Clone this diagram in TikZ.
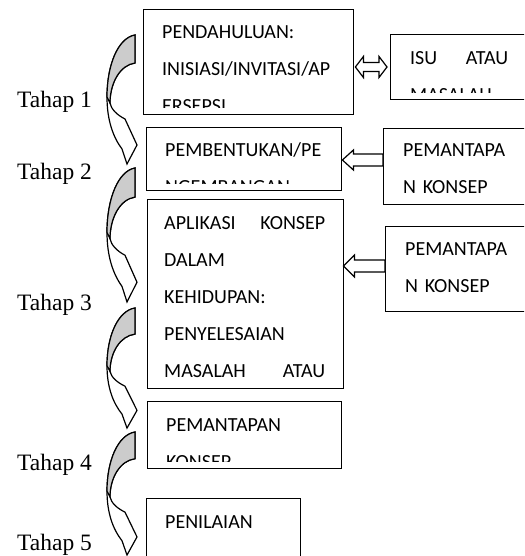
\documentclass[tikz,border=0pt]{standalone}
\usepackage{fontspec}
\setmainfont{Liberation Serif}
\newfontfamily\boxfont{Carlito}
\usetikzlibrary{calc}
\tikzset{box/.style={draw,line width=1.4pt,anchor=north west,inner sep=0pt}}
\tikzset{boxtext/.style={anchor=base west,inner sep=0pt,align=left,font=\boxfont\fontsize{20pt}{37pt}\selectfont}}
\tikzset{stage/.style={anchor=base west,inner sep=0pt,font=\fontsize{23.5pt}{26pt}\selectfont}}
\tikzset{hollow/.style={draw,fill=white,line width=1.2pt,line join=miter}}
\tikzset{backface/.style={draw,fill=black!20,line width=1.2pt}}

\begin{document}
\begin{tikzpicture}[x=1pt,y=-1pt]
        \useasboundingbox (0,0) rectangle (524,556);
        \clip (0,0) rectangle (524,556);
        % main column
        \node[box,minimum width=210pt,minimum height=105pt] (b1) at (143,9) {};
        \node[box,minimum width=195pt,minimum height=63pt] (b2) at (146,127) {};
        \node[box,minimum width=196pt,minimum height=189pt] (b3) at (147,199) {};
        \node[box,minimum width=194pt,minimum height=67pt] (b4) at (147,401) {};
        \node[box,minimum width=154pt,minimum height=90pt] (b5) at (146,498) {};
        % right column
        \node[box,minimum width=150pt,minimum height=65pt] (r1) at (390,34) {};
        \node[box,minimum width=157pt,minimum height=76pt] (r2) at (383,128) {};
        \node[box,minimum width=155pt,minimum height=85pt] (r3) at (385,226) {};
        % texts, cut off at the lower edge as in the boxes
        \begin{scope}
            \clip (b1.north west) rectangle ([yshift=8pt]b1.south east);
            \node[boxtext,text width=190pt] (t1) at ([shift={(19pt,-30pt)}]b1.north west) {PENDAHULUAN:\\INISIASI/INVITASI/AP\\ERSEPSI};
        \end{scope}
        \begin{scope}
            \clip (b2.north west) rectangle ([yshift=8pt]b2.south east);
            \node[boxtext,text width=160pt] (t2) at ([shift={(19pt,-30pt)}]b2.north west) {PEMBENTUKAN/PE\\NGEMBANGAN};
        \end{scope}
        \node[boxtext,text width=161pt] (t3) at ([shift={(17pt,-30pt)}]b3.north west) {APLIKASI\hfill KONSEP\\DALAM\\KEHIDUPAN:\\PENYELESAIAN\\MASALAH\hfill ATAU};
        \begin{scope}
            \clip (b4.north west) rectangle ([yshift=8pt]b4.south east);
            \node[boxtext,text width=160pt] (t4) at ([shift={(19pt,-30pt)}]b4.north west) {PEMANTAPAN\\KONSEP};
        \end{scope}
        \node[boxtext,text width=130pt] (t5) at ([shift={(19pt,-30pt)}]b5.north west) {PENILAIAN};
        \begin{scope}
            \clip (r1.north west) rectangle ([yshift=8pt]r1.south east);
            \node[boxtext,text width=98pt] (s1) at ([shift={(20pt,-31pt)}]r1.north west) {ISU\hfill ATAU\\MASALAH};
        \end{scope}
        \node[boxtext,text width=110pt] (s2) at ([shift={(20pt,-29pt)}]r2.north west) {PEMANTAPA\\N KONSEP};
        \node[boxtext,text width=110pt] (s3) at ([shift={(20pt,-29pt)}]r3.north west) {PEMANTAPA\\N KONSEP};
        % block arrows between the columns
        \coordinate (a1) at ([xshift=1pt]b1.east |- 0,67);
        \coordinate (c1) at ([xshift=-3pt]r1.west |- 0,67);
        \draw[hollow] (a1) -- ++(8,-10.5) -- ++(0,6) -- ($(c1)+(-8,-4.5)$) -- ++(0,-6) -- (c1)
            -- ($(c1)+(-8,10.5)$) -- ++(0,-6) -- ($(a1)+(8,4.5)$) -- ++(0,6) -- cycle;
        \coordinate (a2) at (b2.east |- 0,160);
        \coordinate (c2) at (r2.west |- 0,160);
        \draw[hollow] (a2) -- ++(11,-10) -- ++(0,4) -- ($(c2)+(0,-6)$) -- ($(c2)+(0,6)$)
            -- ($(a2)+(11,6)$) -- ($(a2)+(11,10)$) -- cycle;
        \coordinate (a3) at ([xshift=-1pt]b3.east |- 0,266);
        \coordinate (c3) at (r3.west |- 0,266);
        \draw[hollow] (a3) -- ++(11,-11) -- ++(0,5) -- ($(c3)+(0,-6)$) -- ($(c3)+(0,6)$)
            -- ($(a3)+(11,6)$) -- ($(a3)+(11,11)$) -- cycle;
        % curved arrows on the left
        \foreach \yy/\hh in {35/130,168/135,308/121,432/124}{
            \begin{scope}[shift={(0,\yy)},yscale=\hh/130]
                \draw[hollow] (135,0) .. controls (118,3) and (107,30) .. (107,62)
                    .. controls (107,85) and (113,102) .. (122,114) -- (127,129) -- (137,110) -- (125,84)
                    .. controls (117,80) and (111,74) .. (110,68)
                    .. controls (110,48) and (120,30) .. (135,28) -- cycle;
                \draw[backface] (135,0) .. controls (118,3) and (107,30) .. (107,62) -- (110,68)
                    .. controls (110,48) and (120,30) .. (135,28) -- cycle;
            \end{scope}
        }
        \foreach \n/\yy in {1/108,2/179,3/310,4/470,5/550}
            \node[stage] (tahap\n) at (17,\yy) {Tahap \n};
\end{tikzpicture}
\end{document}
